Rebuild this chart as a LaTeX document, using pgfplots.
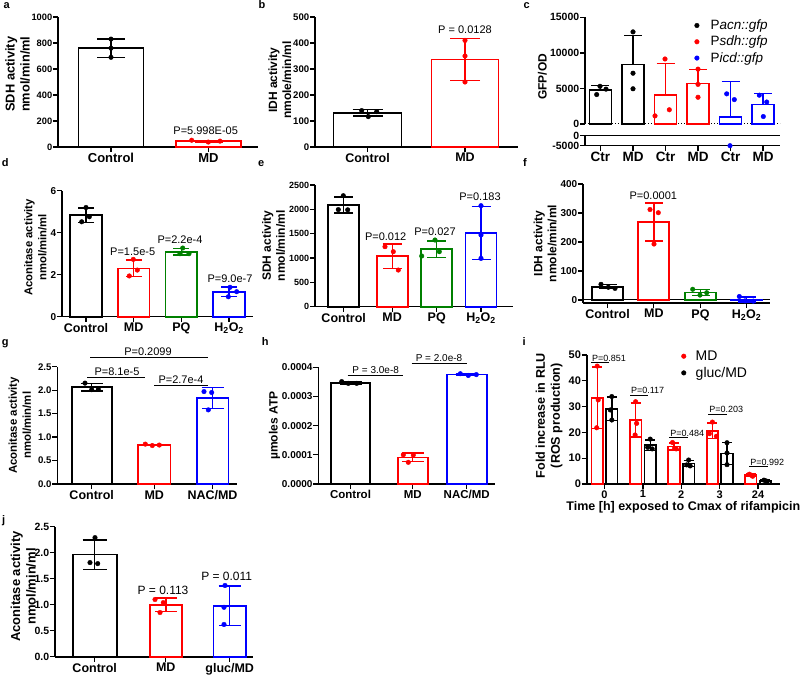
\documentclass[border=0pt]{standalone}
\usepackage{fontspec}
\setmainfont{Liberation Sans}
\usepackage{pgfplots}
\pgfplotsset{compat=1.18}
\definecolor{gpR}{RGB}{255,0,0}
\definecolor{gpG}{RGB}{0,128,0}
\definecolor{gpB}{RGB}{0,0,255}
\newcommand{\fs}[1]{\fontsize{#1}{#1}\selectfont}
\tikzset{pv/.style={font=\fs{11}, inner sep=0pt}}
\pgfplotsset{
 gp/.style={scale only axis, clip=false, axis x line*=bottom, axis y line*=left,
   axis line style={line width=1.6pt}, tick style={black, line width=1.3pt},
   tick align=outside, major tick length=5pt, xmin=0, scaled y ticks=false,
   yticklabel style={font=\bfseries\fs{10}, inner sep=0.6pt}, xticklabel style={font=\bfseries\fs{12.5}, inner sep=1.2pt},
   ylabel style={font=\bfseries\fontsize{12}{14}\selectfont, align=center, anchor=south, inner sep=0pt},
   xlabel style={font=\bfseries\fs{12.5}}},
 yl/.style 2 args={ylabel style={at={(axis description cs:#1,#2)}}},
 gbar/.style={ybar, bar shift=0pt, bar width=#1, fill=white, line width=1.7pt, forget plot},
 gerr/.style 2 args={/pgfplots/error bars/y dir=both, /pgfplots/error bars/y explicit,
   /pgfplots/error bars/error bar style={line width=1.4pt, #1},
   /pgfplots/error bars/error mark options={rotate=90, line width=1.4pt, #1, mark size=#2}},
 gerrup/.style 2 args={/pgfplots/error bars/y dir=plus, /pgfplots/error bars/y explicit,
   /pgfplots/error bars/error bar style={line width=1.4pt, #1},
   /pgfplots/error bars/error mark options={rotate=90, line width=1.4pt, #1, mark size=#2}},
 gdotL/.style={only marks, mark=*, mark size=2.3pt, color=#1, mark options={solid, fill=#1, draw=#1}},
 gdot/.style={gdotL=#1, forget plot},
}
\begin{document}
\begin{tikzpicture}
\path[use as bounding box] (0,0) rectangle (800pt,678pt);
% panel letters
\begin{scope}[every node/.style={font=\bfseries\fs{11}, anchor=base west, inner sep=0pt}]
\node at (3.3pt,669.7pt) {a};
\node at (258.3pt,669.7pt) {b};
\node at (523.3pt,669.7pt) {c};
\node at (1.7pt,511.3pt) {d};
\node at (258pt,511.3pt) {e};
\node at (523pt,511.3pt) {f};
\node at (1.7pt,332pt) {g};
\node at (261.7pt,332pt) {h};
\node at (522.3pt,332pt) {i};
\node at (2pt,155pt) {j};
\end{scope}

% ---------- a ----------
\begin{axis}[gp, at={(58pt,531pt)}, width=200pt, height=130pt, xmax=200, ymin=0, ymax=1000,
 ytick={0,200,400,600,800,1000}, yticklabels={0,200,400,600,800,1000},
 yticklabel style={font=\bfseries\fs{9.3}},
 xtick={53,150.5}, xticklabels={Control,MD},
 xticklabel style={font=\bfseries\fs{13}},
 ylabel={SDH activity\\nmol/min/ml}, ylabel style={font=\bfseries\fontsize{12.8}{15}\selectfont}, yl={-0.14}{0.56}]
\addplot[gbar=65pt, draw=black, gerr={black}{14pt}] coordinates {(53,760) +- (0,70)};
\addplot[gdot=black] coordinates {(53,830) (53,760) (53,690)};
\addplot[gbar=65pt, draw=gpR, gerr={gpR}{14pt}] coordinates {(150.5,45) +- (0,7)};
\addplot[gdot=gpR] coordinates {(133.7,52) (150.3,38) (162,45)};
\node[pv] at (axis cs:147.7,123) {P=5.998E-05};
\end{axis}

% ---------- b ----------
\begin{axis}[gp, at={(315pt,531pt)}, width=203pt, height=130pt, xmax=203, ymin=0, ymax=500,
 ytick={0,100,200,300,400,500}, yticklabels={0,100,200,300,400,500},
 yticklabel style={font=\bfseries\fs{9.6}},
 xtick={52.5,150}, xticklabels={Control,MD},
 ylabel={IDH activity\\nmole/min/ml}, yl={-0.115}{0.515}]
\addplot[gbar=68pt, draw=black, gerr={black}{15pt}] coordinates {(52.5,131) +- (0,12.5)};
\addplot[gdot=black] coordinates {(46.7,140) (53.3,117) (61.7,136)};
\addplot[gbar=67pt, draw=gpR, gerr={gpR}{15pt}] coordinates {(150,337) +- (0,81)};
\addplot[gdot=gpR] coordinates {(150,410) (150,350) (150,250)};
\node[pv] at (axis cs:150,450) {P = 0.0128};
\end{axis}

% ---------- c (upper) ----------
\begin{axis}[gp, hide x axis, at={(585pt,554pt)}, width=195pt, height=106.7pt, xmax=195, ymin=0, ymax=15000,
 ytick={0,5000,10000,15000}, yticklabels={0,5000,10000,15000},
 yticklabel style={font=\bfseries\fs{10.5}},
 ylabel={GFP/OD}, yl={-0.195}{0.443},
 legend style={at={(0.55,0.992)}, anchor=north west, draw=none, fill=none, font=\fs{13.5},
   row sep=2pt, inner sep=0pt, nodes={inner sep=1.5pt}},
 legend cell align=left,
 legend image code/.code={\path (0cm,0cm) (0.57cm,0cm); \draw[#1] plot coordinates {(0.15cm,0cm)};}]
\addplot[forget plot, dotted, line width=1pt] coordinates {(0,0) (195,0)};
\addplot[gbar=22pt, draw=black, gerrup={black}{9pt}] coordinates {(15.4,4780) +- (0,590)};
\addplot[gbar=22pt, draw=black, gerrup={black}{9pt}] coordinates {(48,8347) +- (0,4135)};
\addplot[gbar=22pt, draw=gpR, gerrup={gpR}{9pt}] coordinates {(80.5,4093) +- (0,4393)};
\addplot[gbar=22pt, draw=gpR, gerrup={gpR}{9pt}] coordinates {(113,5680) +- (0,1977)};
\addplot[gbar=22pt, draw=gpB, gerrup={gpB}{9pt}] coordinates {(145.5,957) +- (0,5000)};
\addplot[gbar=22pt, draw=gpB, gerrup={gpB}{9pt}] coordinates {(178,2730) +- (0,1533)};
\addplot[gdotL=black] coordinates {(11.7,4140) (15,5300) (21,4900)};
\addlegendentry{P\textit{acn::gfp}}
\addplot[gdot=black] coordinates {(48,12950) (48,7140) (48,4950)};
\addplot[gdotL=gpR] coordinates {(70,1140) (84.3,2000) (80,9140)};
\addlegendentry{P\textit{sdh::gfp}}
\addplot[gdot=gpR] coordinates {(113,7710) (113,5570) (113,3760)};
\addplot[gdotL=gpB] coordinates {(141.7,4240) (149.3,3430)};
\addlegendentry{P\textit{icd::gfp}}
\addplot[gdot=gpB] coordinates {(174.3,4050) (181.7,3090) (178.3,1050)};
\end{axis}
% ---------- c (lower) ----------
\begin{axis}[gp, at={(585pt,532.3pt)}, width=195pt, height=10pt, xmax=195, ymin=-5000, ymax=0,
 ytick={-5000,0}, yticklabels={-5000,0},
 yticklabel style={font=\bfseries\fs{10.5}},
 xtick={15.4,48,80.5,113,145.5,178}, xticklabels={Ctr,MD,Ctr,MD,Ctr,MD},
 xticklabel style={font=\bfseries\fs{13.5}}]
\addplot[forget plot, line width=1.6pt] coordinates {(0,0) (195,0)};
\addplot[gdot=gpB] coordinates {(145,-5000)};
\end{axis}

% ---------- d ----------
\begin{axis}[gp, at={(62pt,361.3pt)}, width=191pt, height=126pt, xmax=191, ymin=0, ymax=6,
 ytick={0,2,4,6}, yticklabels={0,2,4,6},
 xtick={24,71.7,119.4,167.1}, xticklabels={Control,MD,PQ,H\textsubscript{2}O\textsubscript{2}},
 ylabel={Aconitase activity\\nmol/min/ml}, ylabel style={font=\bfseries\fontsize{11.3}{14}\selectfont}, yl={-0.079}{0.55}]
\addplot[gbar=31.7pt, draw=black, gerr={black}{8pt}] coordinates {(24,4.83) +- (0,0.34)};
\addplot[gdot=black] coordinates {(24,5.2) (27.3,4.76) (19.7,4.52)};
\addplot[gbar=31.7pt, draw=gpR, gerr={gpR}{8pt}] coordinates {(71.7,2.30) +- (0,0.40)};
\addplot[gdot=gpR] coordinates {(71.3,2.73) (75.3,2.22) (67.3,1.94)};
\addplot[gbar=31.7pt, draw=gpG, gerr={gpG}{8pt}] coordinates {(119.4,3.09) +- (0,0.156)};
\addplot[gdot=gpG] coordinates {(120.7,3.27) (127,3.0) (118,3.0)};
\addplot[gbar=31.7pt, draw=gpB, gerr={gpB}{8pt}] coordinates {(167.1,1.18) +- (0,0.225)};
\addplot[gdot=gpB] coordinates {(168,1.40) (174.7,1.19) (166.3,0.95)};
\node[pv] at (axis cs:70.7,3.10) {P=1.5e-5};
\node[pv] at (axis cs:118,3.65) {P=2.2e-4};
\node[pv] at (axis cs:168,1.8) {P=9.0e-7};
\end{axis}

% ---------- e ----------
\begin{axis}[gp, at={(315pt,371.3pt)}, width=198pt, height=121.7pt, xmax=198, ymin=0, ymax=2500,
 ytick={0,500,1000,1500,2000,2500}, yticklabels={0,500,1000,1500,2000,2500},
 yticklabel style={font=\bfseries\fs{9}},
 xtick={28.7,77.2,121.7,166}, xticklabels={Control,MD,PQ,H\textsubscript{2}O\textsubscript{2}},
 ylabel={SDH activity\\nmol/min/ml}, yl={-0.15}{0.5}]
\addplot[gbar=31pt, draw=black, gerr={black}{9.5pt}] coordinates {(28.7,2088) +- (0,166)};
\addplot[gdot=black] coordinates {(28.3,2280) (23.3,1995) (32.7,1990)};
\addplot[gbar=31pt, draw=gpR, gerr={gpR}{9.5pt}] coordinates {(77.2,1039) +- (0,253)};
\addplot[gdot=gpR] coordinates {(70,1233) (78.3,1130) (83.3,753)};
\addplot[gbar=31pt, draw=gpG, gerr={gpG}{9.5pt}] coordinates {(121.7,1180) +- (0,170)};
\addplot[gdot=gpG] coordinates {(106.7,1041) (120,1370) (124.3,1130)};
\addplot[gbar=31pt, draw=gpB, gerr={gpB}{9.5pt}] coordinates {(166,1514) +- (0,542)};
\addplot[gdot=gpB] coordinates {(166,2075) (166,1473) (166,993)};
\node[pv] at (axis cs:70.7,1438) {P=0.012};
\node[pv] at (axis cs:120,1541) {P=0.027};
\node[pv] at (axis cs:165,2260) {P=0.183};
\end{axis}

% ---------- f ----------
\begin{axis}[gp, at={(583pt,375.1pt)}, width=187pt, height=118.9pt, xmax=187, ymin=-10, ymax=400,
 ytick={0,100,200,300,400}, yticklabels={0,100,200,300,400},
 xtick={24.5,70.8,117.5,163.5}, xticklabels={Control,MD,PQ,H\textsubscript{2}O\textsubscript{2}},
 ylabel={IDH activity\\nmole/min/ml}, yl={-0.14}{0.5}]
\addplot[forget plot, line width=1pt] coordinates {(0,0) (187,0)};
\addplot[gbar=31pt, draw=black, gerr={black}{9pt}] coordinates {(24.5,46) +- (0,7.2)};
\addplot[gdot=black] coordinates {(18,54) (25.3,44) (32,40)};
\addplot[gbar=31pt, draw=gpR, gerr={gpR}{9pt}] coordinates {(70.8,268.7) +- (0,65.8)};
\addplot[gdot=gpR] coordinates {(67,312) (75.3,301) (71,193)};
\addplot[gbar=31pt, draw=gpG, gerr={gpG}{9pt}] coordinates {(117.5,26.3) +- (0,10)};
\addplot[gdot=gpG] coordinates {(109.7,37) (117,17) (123.7,25)};
\addplot[gbar=31pt, draw=gpB, gerr={gpB}{9pt}] coordinates {(163.5,1.7) +- (0,9)};
\addplot[gdot=gpB] coordinates {(156.3,12) (162,-3) (170.3,-4)};
\node[pv] at (axis cs:70.3,359) {P=0.0001};
\end{axis}

% ---------- g ----------
\begin{axis}[gp, at={(57.3pt,194pt)}, width=179.4pt, height=117.3pt, xmax=179.4, ymin=0, ymax=2.5,
 ytick={0,0.5,1,1.5,2,2.5}, yticklabels={0.0,0.5,1.0,1.5,2.0,2.5},
 yticklabel style={font=\bfseries\fs{9.6}},
 xtick={34.4,97,155.2}, xticklabels={Control,MD,NAC/MD},
 ylabel={Aconitase activity\\nmol/min/ml}, ylabel style={font=\bfseries\fontsize{11.4}{14}\selectfont}, yl={-0.145}{0.5}]
\addplot[gbar=40pt, draw=black, gerr={black}{11pt}] coordinates {(34.4,2.06) +- (0,0.078)};
\addplot[gdot=black] coordinates {(27.7,2.15) (34.4,2.01) (41,2.02)};
\addplot[gbar=32.3pt, draw=gpR, gerr={gpR}{11pt}] coordinates {(97,0.833) +- (0,0.015)};
\addplot[gdot=gpR] coordinates {(88,0.85) (95,0.82) (102,0.83)};
\addplot[gbar=31.7pt, draw=gpB, gerr={gpB}{11pt}] coordinates {(155.2,1.833) +- (0,0.22)};
\addplot[gdot=gpB] coordinates {(146.7,1.97) (154.4,1.95) (151,1.58)};
\addplot[forget plot, line width=0.9pt] coordinates {(32.7,2.70) (150.7,2.70)};
\addplot[forget plot, line width=0.9pt] coordinates {(29.7,2.27) (87.7,2.27)};
\addplot[forget plot, line width=0.9pt] coordinates {(96.7,2.11) (151,2.11)};
\node[pv, anchor=south, inner sep=1.5pt] at (axis cs:90.7,2.70) {P=0.2099};
\node[pv, anchor=south, inner sep=1.5pt] at (axis cs:59.7,2.27) {P=8.1e-5};
\node[pv, anchor=south, inner sep=1.5pt] at (axis cs:123.7,2.11) {P=2.7e-4};
\end{axis}

% ---------- h ----------
\begin{axis}[gp, at={(318.3pt,194pt)}, width=176.7pt, height=116.7pt, xmax=176.7, ymin=0, ymax=0.0004,
 ytick={0,0.0001,0.0002,0.0003,0.0004}, yticklabels={0.0000,0.0001,0.0002,0.0003,0.0004},
 yticklabel style={font=\bfseries\fs{10}},
 xtick={32.2,94.4,148.4}, xticklabels={Control,MD,NAC/MD},
 xticklabel style={font=\bfseries\fs{11.5}},
 ylabel={µmoles ATP}, yl={-0.215}{0.5}]
\addplot[gbar=39pt, draw=black, gerr={black}{11pt}] coordinates {(32.2,0.000347) +- (0,0.000004)};
\addplot[gdot=black] coordinates {(23.4,0.000351) (30,0.000345) (38.4,0.000345)};
\addplot[gbar=30pt, draw=gpR, gerr={gpR}{11pt}] coordinates {(94.4,0.0000912) +- (0,0.0000148)};
\addplot[gdot=gpR] coordinates {(85,0.0001) (95,0.0000993) (90,0.0000743)};
\addplot[gbar=40pt, draw=gpB, gerr={gpB}{11pt}] coordinates {(148.4,0.000375) +- (0,0.000003)};
\addplot[gdot=gpB] coordinates {(142,0.000378) (150,0.000372) (158,0.000375)};
\addplot[forget plot, line width=0.9pt] coordinates {(29.4,0.0003736) (85,0.0003736)};
\addplot[forget plot, line width=0.9pt] coordinates {(93.4,0.0004137) (148.4,0.0004137)};
\node[pv, font=\fs{10}, anchor=south, inner sep=1.5pt] at (axis cs:57.4,0.0003736) {P = 3.0e-8};
\node[pv, font=\fs{10}, anchor=south, inner sep=1.5pt] at (axis cs:120.7,0.0004137) {P = 2.0e-8};
\end{axis}

% ---------- i ----------
\begin{axis}[gp, at={(586.7pt,194pt)}, width=193.3pt, height=129pt, xmax=193.3, ymin=0, ymax=50,
 ytick={0,10,20,30,40,50}, yticklabels={0,10,20,30,40,50},
 yticklabel style={font=\bfseries\fs{11}},
 xtick={17.8,56.2,94.6,133,171.4}, xticklabels={0,1,2,3,24},
 xticklabel style={font=\bfseries\fs{11}},
 xlabel={Time [h] exposed to Cmax of rifampicin}, xlabel style={inner sep=2pt},
 ylabel={Fold increase in RLU\\(ROS production)}, ylabel style={font=\bfseries\fontsize{12.6}{15}\selectfont}, yl={-0.124}{0.53},
 legend style={at={(0.478,1.047)}, anchor=north west, draw=none, fill=none, font=\fs{14},
   row sep=2.3pt, inner sep=0pt, nodes={inner sep=1.5pt}},
 legend cell align=left,
 legend image code/.code={\path (0cm,0cm) (0.51cm,0cm); \draw[#1] plot coordinates {(0.15cm,0cm)};}]
\addplot[gbar=11.5pt, draw=gpR, gerr={gpR}{5pt}] coordinates {(10.5,33.37) +- (0,11.97) (48.9,24.8) +- (0,6.55) (87.3,14.5) +- (0,1.39) (125.7,20.67) +- (0,2.93) (164.1,3.4) +- (0,0.4)};
\addplot[gbar=11.5pt, draw=black, gerr={black}{5pt}] coordinates {(25.1,29.13) +- (0,4.57) (63.5,15.07) +- (0,2.04) (101.9,7.9) +- (0,1.23) (140.3,11.83) +- (0,4.25) (178.7,1.23) +- (0,0.25)};
\addplot[gdotL=gpR] coordinates {(10.5,45.7) (11.5,32.6) (10.0,21.8) (48.9,31.9) (49.9,23.5) (48.4,19.0) (85.8,16.1) (87.8,13.8) (89.5,13.6) (125.7,24.0) (122.7,19.5) (129.7,18.5) (162.6,3.8) (164.6,3.4) (166,3.0)};
\addlegendentry{MD}
\addplot[gdotL=black] coordinates {(25.1,33.9) (23.6,28.7) (25.1,24.8) (63.5,17.4) (61,14.2) (65.5,13.6) (101.9,9.3) (100,7.4) (103.5,7.0) (140.3,16.0) (140.3,12.0) (140.3,7.5) (177.2,1.5) (179.2,1.2) (180.5,1.0)};
\addlegendentry{gluc/MD}
\addplot[forget plot, line width=0.8pt] coordinates {(4.3,47.2) (22.3,47.2)};
\addplot[forget plot, line width=0.8pt] coordinates {(43.3,34.5) (61.6,34.5)};
\addplot[forget plot, line width=0.8pt] coordinates {(82.6,17.9) (101.6,17.9)};
\addplot[forget plot, line width=0.8pt] coordinates {(121.6,27.1) (140,27.1)};
\addplot[forget plot, line width=0.8pt] coordinates {(162.6,6.7) (181.6,6.7)};
\node[pv, font=\fs{9}, anchor=south west, inner sep=0.8pt] at (axis cs:4.3,47.2) {P=0.851};
\node[pv, font=\fs{9}, anchor=south west, inner sep=0.8pt] at (axis cs:43.3,34.5) {P=0.117};
\node[pv, font=\fs{9}, anchor=south west, inner sep=0.8pt] at (axis cs:82.6,17.9) {P=0.484};
\node[pv, font=\fs{9}, anchor=south west, inner sep=0.8pt] at (axis cs:121.6,27.1) {P=0.203};
\node[pv, font=\fs{9}, anchor=south west, inner sep=0.8pt] at (axis cs:162.6,6.7) {P=0.992};
\end{axis}

% ---------- j ----------
\begin{axis}[gp, at={(55pt,21.3pt)}, width=198pt, height=130pt, xmax=198, ymin=0, ymax=2.5,
 ytick={0,0.5,1,1.5,2,2.5}, yticklabels={0.0,0.5,1.0,1.5,2.0,2.5},
 yticklabel style={font=\bfseries\fs{10.5}},
 xtick={39.7,110.8,174.7}, xticklabels={Control,MD,gluc/MD},
 ylabel={Aconitase activity\\nmol/min/ml}, ylabel style={font=\bfseries\fontsize{13}{15.5}\selectfont}, yl={-0.095}{0.54}]
\addplot[gbar=44pt, draw=black, gerr={black}{12pt}] coordinates {(39.7,1.963) +- (0,0.283)};
\addplot[gdot=black] coordinates {(40,2.29) (35,1.81) (42.7,1.79)};
\addplot[gbar=31.7pt, draw=gpR, gerr={gpR}{11pt}] coordinates {(110.8,0.997) +- (0,0.13)};
\addplot[gdot=gpR] coordinates {(100,1.10) (108.3,1.04) (105,0.85)};
\addplot[gbar=32.7pt, draw=gpB, gerr={gpB}{11pt}] coordinates {(174.7,0.98) +- (0,0.376)};
\addplot[gdot=gpB] coordinates {(170,1.37) (169,0.95) (169,0.62)};
\node[pv, font=\fs{12}] at (axis cs:108,1.283) {P = 0.113};
\node[pv, font=\fs{12}] at (axis cs:171.7,1.538) {P = 0.011};
\end{axis}
\end{tikzpicture}
\end{document}
